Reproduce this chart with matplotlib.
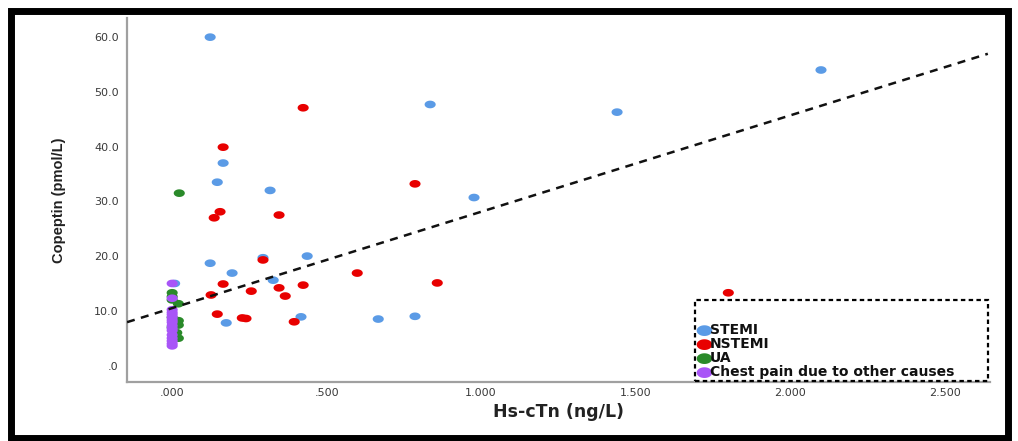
import numpy as np
import matplotlib
matplotlib.use("Agg")
import matplotlib.pyplot as plt
from matplotlib.patches import Rectangle
from matplotlib.ticker import FuncFormatter

# values
stemi_x = [0.123, 2.10, 1.44, 0.835, 0.977, 0.165, 0.146, 0.317, 0.123, 0.294,
           0.437, 0.194, 0.327, 0.175, 0.417, 0.667, 0.786, 0.008]
stemi_y = [60.0, 54.0, 46.3, 47.7, 30.7, 37.0, 33.5, 32.0, 18.7, 19.7,
           20.0, 16.9, 15.6, 7.8, 8.9, 8.5, 9.0, 15.0]

nstemi_x = [0.424, 0.165, 0.786, 0.155, 0.136, 0.346, 0.294, 0.599, 0.858, 0.165,
            0.424, 0.346, 0.256, 0.366, 0.126, 0.146, 0.227, 0.239, 0.395, 1.80]
nstemi_y = [47.1, 39.9, 33.2, 28.1, 27.0, 27.5, 19.3, 16.9, 15.1, 14.9,
            14.7, 14.2, 13.6, 12.7, 12.9, 9.4, 8.7, 8.6, 8.0, 13.3]

ua_x = [0.023, 0.0, 0.0, 0.0, 0.02, 0.02, 0.02, 0.015, 0.02, 0.0, 0.0]
ua_y = [31.5, 13.3, 12.6, 12.0, 11.3, 8.2, 7.4, 6.0, 5.0, 8.8, 7.0]

other_x = [0.0] * 16
other_y = [15.0, 12.3, 10.2, 9.7, 9.3, 8.8, 8.3, 7.9, 7.3, 6.8, 6.4, 5.6, 5.0, 4.5, 4.0, 3.6]

fit_intercept = 10.5
fit_slope = 17.6

xticks = [0.0, 0.5, 1.0, 1.5, 2.0, 2.5]
yticks = [0, 10, 20, 30, 40, 50, 60]

groups = [
    ("STEMI", stemi_x, stemi_y, "#5b9be6"),
    ("NSTEMI", nstemi_x, nstemi_y, "#e80000"),
    ("UA", ua_x, ua_y, "#2a8a2a"),
    ("Chest pain due to other causes", other_x, other_y, "#a855f7"),
]

plt.rcParams["font.family"] = ["DejaVu Sans"]

# slightly wide ellipse marker, the spss export is stretched sideways
t = np.linspace(0, 2 * np.pi, 40)
ell = list(zip(1.45 * np.cos(t), np.sin(t)))

fig = plt.figure(figsize=(10.18, 4.41), dpi=100)
ax = fig.add_axes([0.1248, 0.1338, 0.8477, 0.8254])

for name, xs, ys, col in groups:
    ax.scatter(xs, ys, s=64, marker=ell, color=col, edgecolors="none",
               label=name, zorder=3)

xl = np.array([-0.146, 2.64])
ax.plot(xl, fit_intercept + fit_slope * xl, color="#111111", lw=1.8,
        ls=(0, (3.2, 2.6)), zorder=4)

ax.set_xlim(-0.146, 2.647)
ax.set_ylim(-3.0, 63.5)
ax.set_xticks(xticks)
ax.set_yticks(yticks)
ax.xaxis.set_major_formatter(FuncFormatter(lambda v, p: ("%.3f" % v).lstrip("0") if v < 1 else "%.3f" % v))
ax.yaxis.set_major_formatter(FuncFormatter(lambda v, p: ("%.1f" % v).lstrip("0") if v < 1 else "%.1f" % v))
ax.tick_params(length=0, labelsize=8, labelcolor="#3a3a3a")
ax.tick_params(axis="x", pad=4)
ax.tick_params(axis="y", pad=6)

for s in ["top", "right"]:
    ax.spines[s].set_visible(False)
for s in ["left", "bottom"]:
    ax.spines[s].set_color("#a0a0a0")
    ax.spines[s].set_linewidth(1.6)

ax.set_xlabel("Hs-cTn (ng/L)", fontsize=12.5, fontweight="bold", color="#222222", labelpad=4)
ax.set_ylabel("Copeptin (pmol/L)", fontsize=10.5, fontweight="bold", color="#222222",
              family=["Liberation Sans", "DejaVu Sans"], labelpad=20)

# dashed legend box
box = Rectangle((0.658, 0.004), 0.340, 0.222, transform=ax.transAxes, fill=False,
                ec="black", lw=1.6, ls=(0, (2, 1.5)), zorder=5, clip_on=False)
ax.add_patch(box)
leg = ax.legend(loc="lower left", bbox_to_anchor=(0.653, -0.004), frameon=False,
                prop={"size": 10, "weight": "bold"}, handletextpad=-0.3,
                labelspacing=0.0, borderpad=0.3, markerscale=1.4,
                handlelength=1.4, borderaxespad=0)
for txt in leg.get_texts():
    txt.set_color("#111111")

# black picture frame
fig.add_artist(Rectangle((10.5, 3), 997.5, 427.5, transform=None, fill=False,
                         ec="black", lw=5))

fig.savefig("out.png", dpi=100)
